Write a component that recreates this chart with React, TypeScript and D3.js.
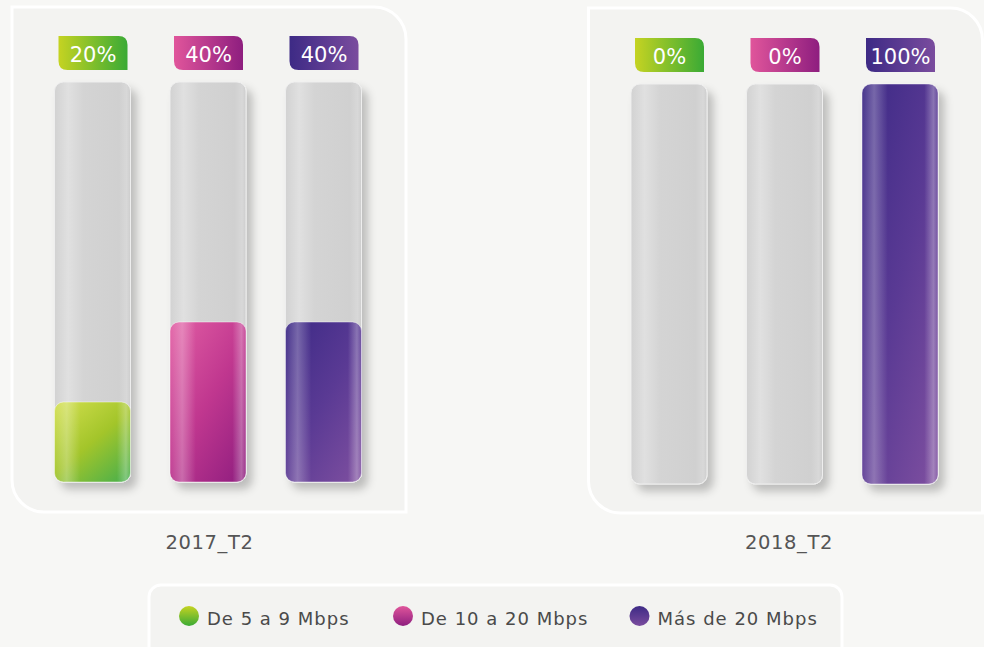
import React from "react";
import * as d3 from "d3";

const periods = ["2017_T2", "2018_T2"];
const seriesNames = ["De 5 a 9 Mbps", "De 10 a 20 Mbps", "Más de 20 Mbps"];
const values2017 = [20, 40, 40];
const values2018 = [0, 0, 100];
const valueLabels2017 = ["20%", "40%", "40%"];
const valueLabels2018 = ["0%", "0%", "100%"];

const W = 984;
const H = 647;
const FONT = "'DejaVu Sans', 'Open Sans', sans-serif";

const seriesColors = [
  { a: "#c5d322", b: "#3aaa35", top: "#cfdd4c", mid: "#a3c52a", bot: "#4cb04a" },
  { a: "#e0559b", b: "#8e1e7f", top: "#df5ba2", mid: "#c0378f", bot: "#921f80" },
  { a: "#3d2a85", b: "#7a4c9e", top: "#3f2b87", mid: "#5a3a94", bot: "#7c4e9f" },
];

function pathTag(x: number, y: number, w: number, h: number, r: number) {
  return `M${x},${y} H${x + w - r} Q${x + w},${y} ${x + w},${y + r} V${y + h} H${x + r} Q${x},${y + h} ${x},${y + h - r} Z`;
}

function pathPanel(x: number, y: number, w: number, h: number, r: number) {
  return `M${x},${y} H${x + w - r} A${r},${r} 0 0 1 ${x + w},${y + r} V${y + h} H${x + r} A${r},${r} 0 0 1 ${x},${y + h - r} Z`;
}

export default function App() {
  const data = [values2017, values2018];
  const labels = [valueLabels2017, valueLabels2018];
  const panelX = d3.scalePoint<string>().domain(periods).range([208, 784.5]);
  const barX = d3.scalePoint<string>().domain(seriesNames).range([-115.5, 115.5]);
  const panelDy = [0, 2];
  const trackTop = 82;
  const trackBottom = 482;
  const y = d3.scaleLinear().domain([0, 100]).range([trackBottom, trackTop]);
  const barW = 76;
  const tagW = 69;
  const tagH = 34;
  const labelDx = [1.5, 4.5];

  const legendItemX = [189, 403, 639.5];

  return (
    <svg width={W} height={H} style={{ position: "absolute", left: 0, top: 0, display: "block" }}>
      <defs>
        <filter id="shadow" x="-30%" y="-10%" width="170%" height="130%">
          <feDropShadow dx="6" dy="7" stdDeviation="4.5" floodColor="#000" floodOpacity="0.22" />
        </filter>
        <linearGradient id="track" x1="0" y1="0" x2="1" y2="0">
          <stop offset="0" stopColor="#d2d2d2" />
          <stop offset="0.18" stopColor="#e0e0e0" />
          <stop offset="0.38" stopColor="#d4d4d4" />
          <stop offset="0.85" stopColor="#d0d0d0" />
          <stop offset="0.95" stopColor="#d8d8d8" />
          <stop offset="1" stopColor="#cdcdcd" />
        </linearGradient>
        <linearGradient id="stripe" x1="0" y1="0" x2="1" y2="0">
          <stop offset="0" stopColor="#fff" stopOpacity="0.05" />
          <stop offset="0.16" stopColor="#fff" stopOpacity="0.28" />
          <stop offset="0.34" stopColor="#fff" stopOpacity="0" />
          <stop offset="0.82" stopColor="#fff" stopOpacity="0" />
          <stop offset="0.94" stopColor="#fff" stopOpacity="0.3" />
          <stop offset="1" stopColor="#fff" stopOpacity="0.1" />
        </linearGradient>
        {seriesColors.map((c, i) => (
          <React.Fragment key={i}>
            <linearGradient id={`tag${i}`} x1="0" y1="0" x2="1" y2="0">
              <stop offset="0" stopColor={c.a} />
              <stop offset="1" stopColor={c.b} />
            </linearGradient>
            <linearGradient id={`leg${i}`} x1="0" y1="0" x2="0" y2="1">
              <stop offset="0" stopColor={c.a} />
              <stop offset="1" stopColor={c.b} />
            </linearGradient>
            <linearGradient id={`fill${i}`} x1="0.1" y1="0" x2="0.9" y2="1">
              <stop offset="0" stopColor={c.top} />
              <stop offset="0.5" stopColor={c.mid} />
              <stop offset="1" stopColor={c.bot} />
            </linearGradient>
          </React.Fragment>
        ))}
      </defs>
      <rect x={0} y={0} width={W} height={H} fill="#f7f7f5" />

      {periods.map((p, pi) => {
        const cx = panelX(p)!;
        const dy = panelDy[pi];
        return (
          <g key={p}>
            <path
              d={pathPanel(cx - 196, 7 + dy * 0.5, 394, 505, 32)}
              fill="#f3f3f1"
              stroke="#ffffff"
              strokeWidth={3}
            />
            {seriesNames.map((s, si) => {
              const bx = cx + barX(s)! - barW / 2;
              const v = data[pi][si];
              const top = y(v) + dy;
              const bottom = trackBottom + dy;
              const h = bottom - top;
              return (
                <g key={s}>
                  <rect
                    x={bx}
                    y={trackTop + dy}
                    width={barW}
                    height={trackBottom - trackTop}
                    rx={9}
                    fill="url(#track)"
                    stroke="#eeeeee"
                    strokeWidth={1}
                    filter="url(#shadow)"
                  />
                  {v > 0 && (
                    <g>
                      <rect x={bx} y={top} width={barW} height={h} rx={9} fill={`url(#fill${si})`} />
                      <rect x={bx} y={top} width={barW} height={h} rx={9} fill="url(#stripe)" stroke="#ffffff" strokeOpacity={0.45} strokeWidth={1} />
                    </g>
                  )}
                  <path
                    d={pathTag(cx + barX(s)! - tagW / 2 + 0.5, 36 + dy, tagW, tagH, 9)}
                    fill={`url(#tag${si})`}
                  />
                  <text
                    x={cx + barX(s)! + 0.5}
                    y={36 + dy + 26}
                    textAnchor="middle"
                    fill="#ffffff"
                    fontFamily={FONT}
                    fontSize={21}
                  >
                    {labels[pi][si]}
                  </text>
                </g>
              );
            })}
            <text
              x={cx + labelDx[pi]}
              y={549}
              textAnchor="middle"
              fill="#555555"
              fontFamily={FONT}
              fontSize={19.5}
              letterSpacing={0.6}
            >
              {p}
            </text>
          </g>
        );
      })}

      <rect x={149} y={585} width={693} height={80} rx={12} fill="#f3f3f1" stroke="#ffffff" strokeWidth={3} />
      {seriesNames.map((s, si) => (
        <g key={s}>
          <circle cx={legendItemX[si]} cy={616} r={10} fill={`url(#leg${si})`} />
          <text x={legendItemX[si] + 18} y={625} fill="#4a4a4a" fontFamily={FONT} fontSize={18} letterSpacing={1}>
            {s}
          </text>
        </g>
      ))}
    </svg>
  );
}
